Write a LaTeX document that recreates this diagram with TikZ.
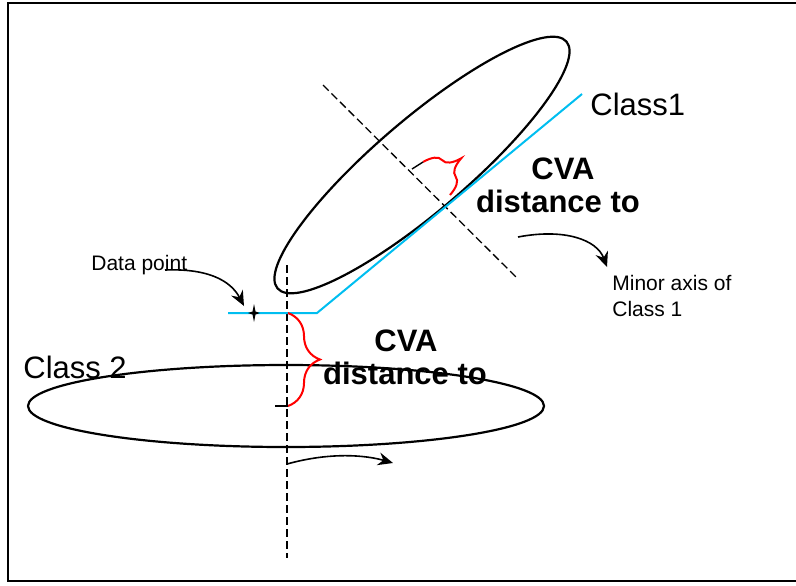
\documentclass[tikz,border=0pt]{standalone}
\usepackage{fontspec}
\setmainfont{Liberation Sans}
\usetikzlibrary{arrows.meta,decorations.pathreplacing}
\definecolor{cvacyan}{RGB}{0,190,240}

\begin{document}
\begin{tikzpicture}[x=0.5pt, y=-0.5pt,
  outline/.style={line width=1.1pt},
  axisline/.style={line width=0.65pt, dash pattern=on 4pt off 2pt},
  cvaline/.style={line width=1pt, color=cvacyan},
  bracered/.style={red, line width=1pt, decorate, decoration={brace, amplitude=16pt}},
  tick/.style={line width=0.7pt},
  arrow/.style={-{Stealth[length=7.5pt, width=6.5pt, inset=2.5pt]}, line width=0.8pt},
  bigtext/.style={font=\fontsize{15.5}{18}\selectfont, inner sep=0pt},
  bigbold/.style={font=\fontsize{15.5}{18}\selectfont\bfseries, inner sep=0pt},
  smalltext/.style={font=\fontsize{10.5}{13}\selectfont, inner sep=0pt, align=left}
]
  \useasboundingbox (0,0) rectangle (796,585);
  \draw[line width=1pt] (8,3) rectangle (820,581);

  % the two classes
  \coordinate (c1) at (422,165);
  \coordinate (c2) at (286,406);
  \draw[outline, rotate around={40.5:(c1)}] (c1) ellipse [x radius=95pt, y radius=23pt];
  \draw[outline] (c2) ellipse [x radius=129pt, y radius=20.5pt];

  % minor axes
  \coordinate (m1a) at (323,85);
  \coordinate (m1b) at (518,279);
  \coordinate (m2a) at (287,265);
  \coordinate (m2b) at (287,558);
  \draw[axisline] (m1a) -- (m1b);
  \draw[axisline] (m2a) -- (m2b);

  % cva line
  \coordinate (cy0) at (228,313);
  \coordinate (cy1) at (317,313);
  \coordinate (cy2) at (582,94);
  \draw[cvaline] (cy0) -- (cy1) -- (cy2);

  % data point
  \coordinate (dp) at (254,313);
  \fill (dp) ++(0,-9) -- ++(1.5,7.5) -- ++(4.5,1.5) -- ++(-4.5,1.5) -- ++(-1.5,7.5)
    -- ++(-1.5,-7.5) -- ++(-4.5,-1.5) -- ++(4.5,-1.5) -- cycle;

  % braces
  \coordinate (b1top) at (288,313);
  \coordinate (b1bot) at (288,406);
  \coordinate (b1end) at (275,406);
  \draw[bracered] (b1top) -- (b1bot);
  \draw[tick] (b1end) -- (b1bot);
  \coordinate (b2a) at (423,162);
  \coordinate (b2b) at (450,195);
  \coordinate (b2end) at (412,169);
  \draw[bracered] (b2a) -- (b2b);
  \draw[tick] (b2end) -- (b2a);

  % labels
  \node[bigtext, anchor=base west] (class1) at (590,115) {Class1};
  \node[bigtext, anchor=base west] (class2) at (23,378) {Class 2};
  \node[bigbold, anchor=base] (cvaA) at (563,179) {CVA};
  \node[bigbold, anchor=base] (distA) at (558,212) {distance to};
  \node[bigbold, anchor=base] (cvaB) at (406,351) {CVA};
  \node[bigbold, anchor=base] (distB) at (405,384) {distance to};
  \node[smalltext, anchor=base west] (datapt) at (91,270) {Data point};
  \node[smalltext, anchor=base west] (minorlbl) at (612,316) {Minor axis of\\Class 1};

  % arrows
  \coordinate (a1s) at (165,270);
  \coordinate (a1e) at (244,306);
  \coordinate (a2s) at (518,237);
  \coordinate (a2e) at (607,267);
  \coordinate (a3s) at (287,464);
  \coordinate (a3e) at (393,463);
  \draw[arrow] (a1s) .. controls (215,268) and (233,285) .. (a1e);
  \draw[arrow] (a2s) .. controls (565,228) and (597,240) .. (a2e);
  \draw[arrow] (a3s) .. controls (330,452) and (365,455) .. (a3e);
\end{tikzpicture}
\end{document}
